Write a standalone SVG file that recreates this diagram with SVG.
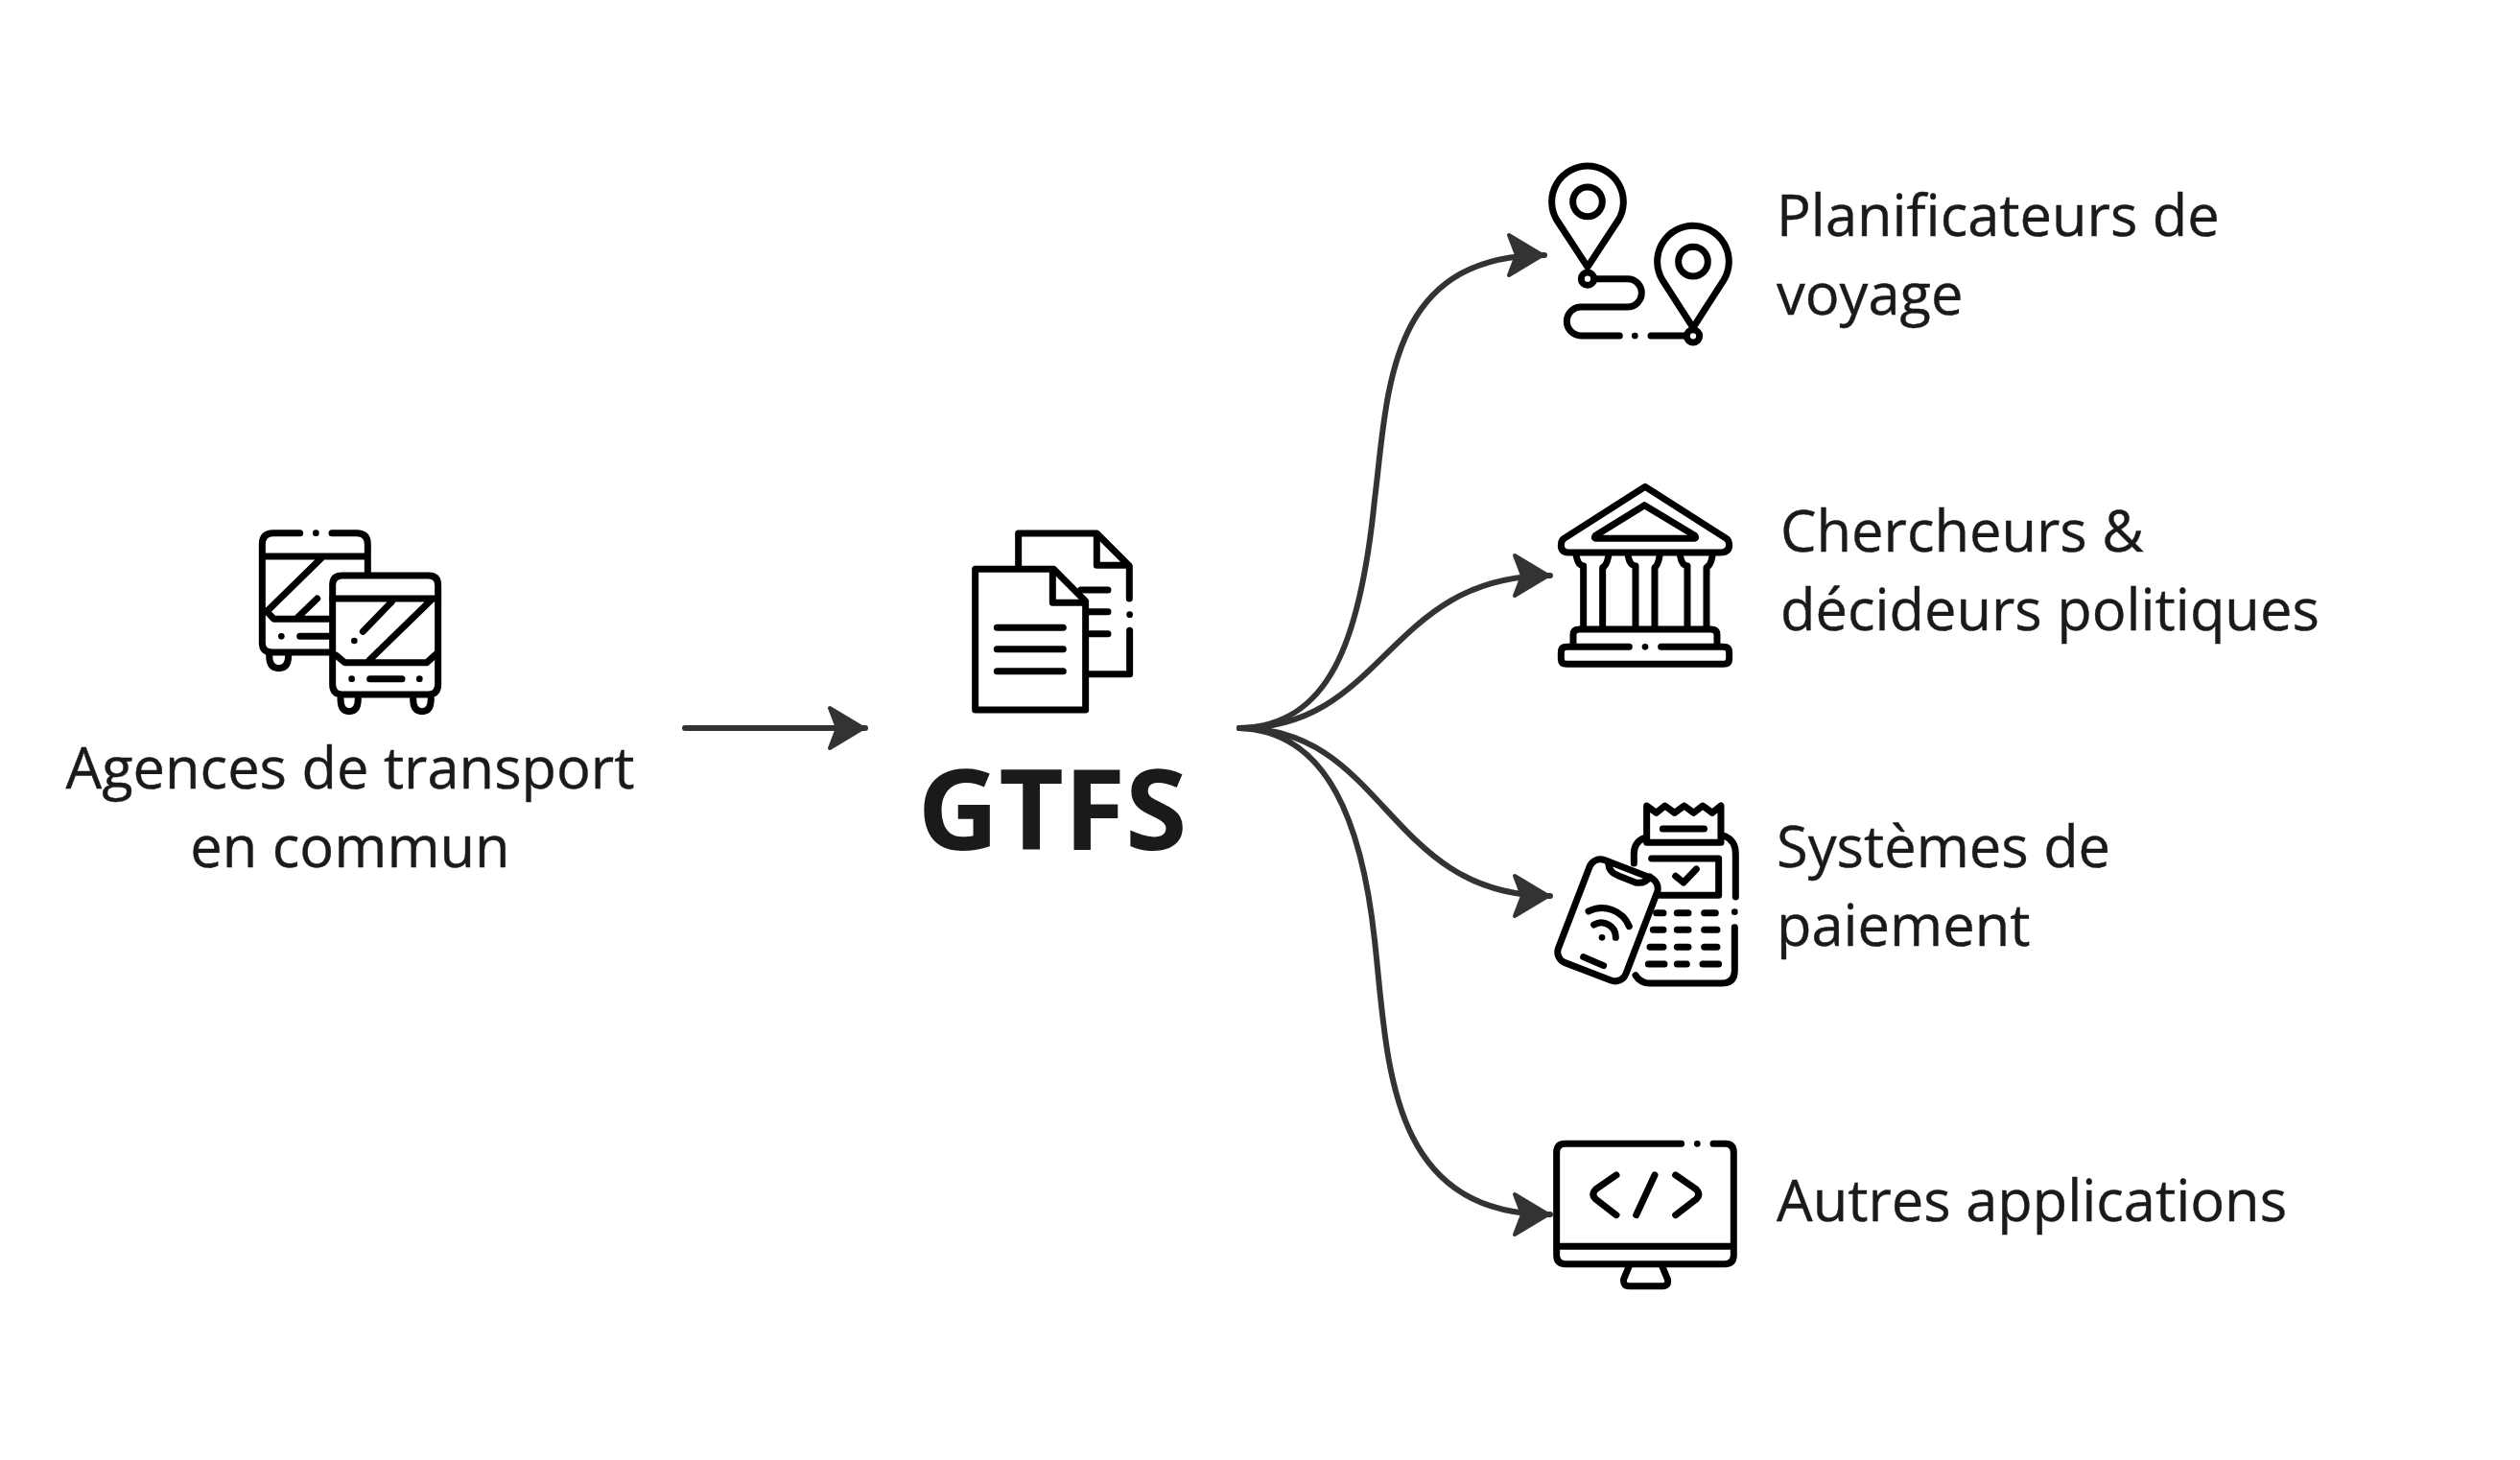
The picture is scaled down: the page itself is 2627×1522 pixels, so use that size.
<svg xmlns="http://www.w3.org/2000/svg" width="2627" height="1522" viewBox="0 0 2627 1522">
<style>
.t{font-family:"Open Sans","Noto Sans",sans-serif;font-size:59.6px;fill:#1a1a1a;stroke:#1a1a1a;stroke-width:.4}
.b{font-family:"Open Sans","Noto Sans",sans-serif;font-size:117px;font-weight:700;fill:#1a1a1a}
.i{fill:none;stroke:#000;stroke-width:21;stroke-linecap:round;stroke-linejoin:round}
.w{fill:#fff}
.k{fill:#000;stroke:none}
.c{fill:none;stroke:#333;stroke-width:6;stroke-linecap:round}
</style>
<defs>
<marker id="a" markerUnits="userSpaceOnUse" markerWidth="60" markerHeight="60" refX="40" refY="30" orient="auto" overflow="visible">
<path d="M3,9 L38,30 L3,51 L11,30 Z" fill="#333" stroke="#333" stroke-width="4" stroke-linejoin="round"/>
</marker>
</defs>
<rect width="2627" height="1522" fill="#fff"/>
<g id="connectors">
<path class="c" d="M714,759 H902" marker-end="url(#a)"/>
<path class="c" d="M1292,759 C1385,757 1418,670 1433,521 C1447,410 1445,266 1610,266" marker-end="url(#a)"/>
<path class="c" d="M1292,759 C1445,759 1445,600 1616,600" marker-end="url(#a)"/>
<path class="c" d="M1292,759 C1445,759 1445,934 1616,934" marker-end="url(#a)"/>
<path class="c" d="M1292,759 C1385,762 1420,860 1433,980 C1447,1105 1445,1266 1616,1266" marker-end="url(#a)"/>
</g>
<g id="agences">
<g class="i" transform="translate(240,520) scale(.3333)">
<path d="M218,107 H135 Q100,107 100,142 V450 Q100,480 130,480 H312 M430,235 V142 Q430,107 395,107 H318 M100,180 H430 M112,350 L137,376 H320 M122,345 L285,185 M212,370 L272,312 M218,430 H312 M122,490 Q122,530 152,530 Q182,530 182,490"/>
<circle class="k" cx="268" cy="107" r="10"/><circle class="k" cx="160" cy="430" r="10"/>
<path class="w" d="M350,240 H620 Q650,240 650,270 V580 Q650,612 620,612 H350 Q320,612 320,580 V270 Q320,240 350,240 Z"/>
<path d="M320,312 H650 M332,490 L358,512 H615 L645,485 M415,415 L505,322 M435,505 L630,315 M437,563 H537 M345,625 Q345,665 372,665 Q400,665 400,625 M572,625 Q572,665 600,665 Q628,665 628,625"/>
<circle class="k" cx="388" cy="444" r="10"/><circle class="k" cx="380" cy="563" r="10"/><circle class="k" cx="592" cy="563" r="10"/>
</g>
<text class="t" x="365" y="822" text-anchor="middle">Agences de transport</text>
<text class="t" x="365" y="904" text-anchor="middle">en commun</text>
</g>
<g id="gtfs">
<g class="i" transform="translate(980,530) scale(.3333)">
<path d="M245,180 V78 H490 L592,180 V282 M593,382 V518 H460 M490,85 V178 H585 M440,255 H525 M465,323 H525 M465,392 H525"/>
<circle class="k" cx="593" cy="332" r="10"/>
<path class="w" d="M110,190 H355 L455,290 V630 H110 Z"/>
<path d="M352,195 V295 H450 M178,373 H385 M178,440 H385 M178,509 H385"/>
</g>
<text class="b" x="1097" y="886" text-anchor="middle">GTFS</text>
</g>
<g id="planificateurs">
<g class="i" transform="translate(1560,150) scale(.3333)">
<path d="M285,385 L188,237 A112,112 0 1 1 382,237 Z M310,422 H410 A44,44 0 0 1 410,510 H265 A45,45 0 0 0 265,600 H385 M483,600 H590 M615,575 L518,424 A112,112 0 1 1 712,424 Z"/>
<circle cx="285" cy="181" r="46"/><circle cx="615" cy="368" r="46"/>
<circle class="w" cx="285" cy="422" r="20"/><circle class="w" cx="615" cy="601" r="20"/>
<circle class="k" cx="433" cy="600" r="10"/>
</g>
<text class="t" x="1852" y="246">Planificateurs de</text>
<text class="t" x="1852" y="328">voyage</text>
</g>
<g id="chercheurs">
<g class="i" transform="translate(1580,490) scale(.3333)">
<path d="M405,52 L660,215 Q668,222 668,235 Q668,258 640,258 H165 Q142,258 142,235 Q142,222 150,215 Z M403,110 L560,205 Q568,214 555,214 H255 Q242,214 250,205 Z"/>
<path d="M190,270 Q195,298 212,300 V490 M290,270 Q285,298 272,305 V490 M352,270 Q357,298 375,300 V490 M450,270 Q445,298 435,305 V490 M515,270 Q520,298 537,300 V490 M615,270 Q610,298 597,305 V490"/>
<path d="M180,545 V515 Q180,498 200,498 H610 Q630,498 630,515 V545 M355,553 H160 Q142,553 142,570 V590 Q142,607 160,607 H650 Q668,607 668,590 V570 Q668,553 650,553 H455"/>
<circle class="k" cx="405" cy="553" r="10"/>
</g>
<text class="t" x="1856" y="575">Chercheurs &amp;</text>
<text class="t" x="1856" y="657">décideurs politiques</text>
</g>
<g id="paiement">
<g class="i" transform="translate(1590,820) scale(.3333)">
<path d="M375,160 Q340,172 340,210 V240 M625,155 Q658,170 658,210 V345 M655,440 V575 Q655,615 615,615 H390 Q360,615 345,590"/>
<path d="M380,175 V60 L410,82 L437,60 L467,82 L497,60 L527,82 L555,60 L585,82 L612,60 V175 Z M430,132 H560 M395,225 H605 V340 H420 M470,280 L495,300 L535,258"/>
<path d="M410,395 H432 M475,395 H510 M560,395 H595 M400,448 H432 M475,448 H510 M560,448 H600 M390,502 H432 M475,502 H510 M560,502 H600 M385,555 H435 M475,555 H505 M555,555 H605"/>
<circle class="k" cx="655" cy="392" r="10"/>
<g transform="translate(258,418) rotate(21)">
<rect class="w" x="-113" y="-172" width="226" height="344" rx="36"/>
</g>
<path d="M260,240 Q262,268 290,278 L345,300 Q375,305 390,282 M215,432 A45,45 0 0 1 283,472 M198,390 A92,92 0 0 1 325,437 M182,533 L245,560"/>
<circle class="k" cx="240" cy="472" r="10"/>
</g>
<text class="t" x="1852" y="904">Systèmes de</text>
<text class="t" x="1852" y="986">paiement</text>
</g>
<g id="autres">
<g class="i" transform="translate(1590,1170) scale(.3333)">
<path d="M488,67 H125 Q98,67 98,95 V415 Q98,443 125,443 H625 Q652,443 652,415 V95 Q652,67 625,67 H588 M98,388 H652 M325,450 L308,490 Q305,512 325,512 H430 Q450,512 445,490 L428,450 M285,165 L220,210 Q205,225 220,240 L285,290 M405,165 L347,290 M470,165 L535,210 Q550,225 535,240 L470,290"/>
<circle class="k" cx="538" cy="67" r="10"/>
</g>
<text class="t" x="1852" y="1273">Autres applications</text>
</g>
</svg>
